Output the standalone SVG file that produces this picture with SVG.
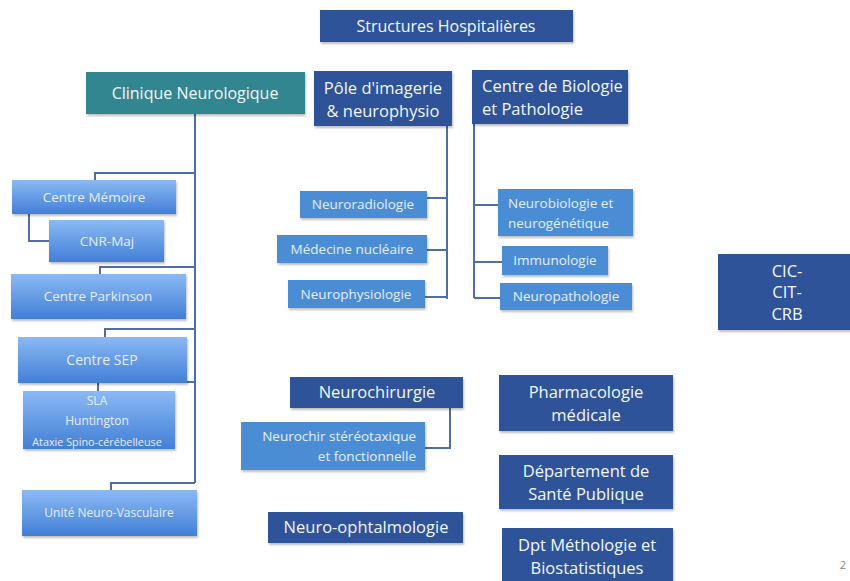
<svg xmlns="http://www.w3.org/2000/svg" width="850" height="581" viewBox="0 0 850 581">
<defs>
<linearGradient id="lg" x1="0" y1="0" x2="0" y2="1">
<stop offset="0" stop-color="#8bb9f4"/>
<stop offset="1" stop-color="#427fd6"/>
</linearGradient>
<filter id="sh" x="-10%" y="-10%" width="130%" height="140%">
<feDropShadow dx="1" dy="2" stdDeviation="1.2" flood-color="#000" flood-opacity="0.25"/>
</filter>
</defs>
<style>
.dk{fill:#2f5399;filter:url(#sh)}
.tl{fill:#31868f;filter:url(#sh)}
.md{fill:#4c8dd5;filter:url(#sh)}
.gr{fill:url(#lg);filter:url(#sh)}
text{font-family:"Open Sans","Liberation Sans",sans-serif;text-anchor:middle;fill:#f4f7fc}
.big{font-size:16.5px}
.sm{font-size:13.5px;fill:#e6eefa}
.con path{fill:none;stroke:#4d6fa3;stroke-width:2}
</style>
<rect width="850" height="581" fill="#ffffff"/>

<g class="con">
<path d="M195,114 V483"/>
<path d="M195,173 H95 V180"/>
<path d="M29,214 V241 H49"/>
<path d="M195,267 H100 V274"/>
<path d="M195,329 H105 V337"/>
<path d="M187,382 H195"/>
<path d="M98,383 V391"/>
<path d="M195,483 H111 V490"/>
<path d="M447,126 V299"/>
<path d="M427,198 H447"/>
<path d="M427,250 H447"/>
<path d="M425,297 H447"/>
<path d="M474,124 V298"/>
<path d="M474,205 H498"/>
<path d="M474,262 H502"/>
<path d="M474,298 H500"/>
<path d="M450,408 V448 H425"/>
</g>

<g id="structures"><rect class="dk" x="320" y="10" width="253" height="32"/><text x="446" y="32" style="font-size:16px">Structures Hospitalières</text></g>
<g id="clinique"><rect class="tl" x="86" y="72" width="219" height="42"/><text x="195" y="99" style="font-size:16px">Clinique Neurologique</text></g>
<g id="pole"><rect class="dk" x="314" y="71" width="138" height="55"/><text class="big" x="383" y="94">Pôle d'imagerie</text><text class="big" x="383" y="117">&amp; neurophysio</text></g>
<g id="biologie"><rect class="dk" x="472" y="70" width="156" height="54"/><text class="big" x="482" y="92" style="text-anchor:start">Centre de Biologie</text><text class="big" x="482" y="115" style="text-anchor:start">et Pathologie</text></g>
<g id="cic"><rect class="dk" x="718" y="254" width="134" height="76"/><text class="big" x="787" y="277">CIC-</text><text class="big" x="787" y="298">CIT-</text><text class="big" x="787" y="320">CRB</text></g>

<g id="memoire"><rect class="gr" x="12" y="180" width="164" height="34"/><text class="sm" x="94" y="202">Centre Mémoire</text></g>
<g id="cnr"><rect class="gr" x="49" y="220" width="115" height="42"/><text class="sm" x="107" y="246">CNR-Maj</text></g>
<g id="parkinson"><rect class="gr" x="11" y="274" width="175" height="45"/><text class="sm" x="98" y="301">Centre Parkinson</text></g>
<g id="sep"><rect class="gr" x="18" y="337" width="169" height="46"/><text x="102" y="365" style="font-size:14px;fill:#e6eefa">Centre SEP</text></g>
<g id="sla"><rect class="gr" x="23" y="391" width="152" height="58"/><text class="sm" x="97" y="405" style="font-size:12px">SLA</text><text class="sm" x="97" y="425" style="font-size:12px">Huntington</text><text x="97" y="446" style="font-size:10.8px;fill:#e6eefa">Ataxie Spino-cérébelleuse</text></g>
<g id="unv"><rect class="gr" x="22" y="490" width="175" height="46"/><text x="109" y="517" style="font-size:12px;fill:#e6eefa">Unité Neuro-Vasculaire</text></g>

<g id="neuroradio"><rect class="md" x="300" y="191" width="127" height="27"/><text class="sm" x="363" y="209">Neuroradiologie</text></g>
<g id="medecine"><rect class="md" x="277" y="235" width="150" height="28"/><text class="sm" x="352" y="254">Médecine nucléaire</text></g>
<g id="neurophysio"><rect class="md" x="288" y="280" width="137" height="28"/><text class="sm" x="356" y="299">Neurophysiologie</text></g>

<g id="neurobio"><rect class="md" x="498" y="189" width="135" height="47"/><text class="sm" x="508" y="208" style="text-anchor:start">Neurobiologie et</text><text class="sm" x="508" y="228" style="text-anchor:start">neurogénétique</text></g>
<g id="immuno"><rect class="md" x="502" y="246" width="106" height="29"/><text class="sm" x="555" y="265">Immunologie</text></g>
<g id="neuropatho"><rect class="md" x="500" y="283" width="132" height="27"/><text class="sm" x="566" y="301">Neuropathologie</text></g>

<g id="neurochir"><rect class="dk" x="290" y="377" width="173" height="31"/><text class="big" x="377" y="398">Neurochirurgie</text></g>
<g id="stereo"><rect class="md" x="241" y="422" width="184" height="48"/><text class="sm" x="416" y="441" style="text-anchor:end">Neurochir stéréotaxique</text><text class="sm" x="416" y="461" style="text-anchor:end">et fonctionnelle</text></g>
<g id="ophtalmo"><rect class="dk" x="268" y="512" width="195" height="31"/><text class="big" x="366" y="533">Neuro-ophtalmologie</text></g>

<g id="pharma"><rect class="dk" x="499" y="375" width="174" height="56"/><text class="big" x="586" y="398">Pharmacologie</text><text class="big" x="586" y="421">médicale</text></g>
<g id="sante"><rect class="dk" x="499" y="455" width="174" height="54"/><text class="big" x="586" y="477">Département de</text><text class="big" x="586" y="500">Santé Publique</text></g>
<g id="dpt"><rect class="dk" x="502" y="528" width="171" height="60"/><text class="big" x="587" y="551">Dpt Méthologie et</text><text class="big" x="587" y="574">Biostatistiques</text></g>

<text x="843" y="569" style="font-size:11px;fill:#888888">2</text>
</svg>
